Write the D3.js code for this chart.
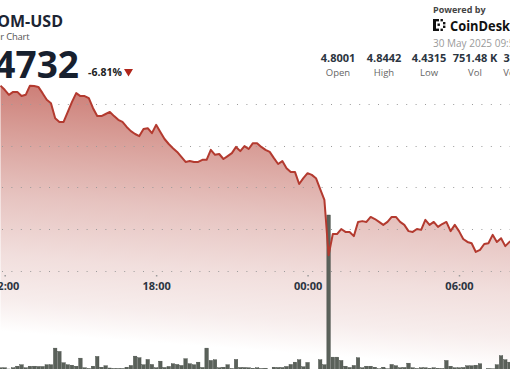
<!DOCTYPE html>
<html><head><meta charset="utf-8">
<script src="https://cdnjs.cloudflare.com/ajax/libs/d3/7.8.5/d3.min.js"></script>
<style>
html,body{margin:0;padding:0;background:#fff;overflow:hidden;}
svg{display:block;font-family:"Open Sans","Noto Sans",sans-serif;}
</style></head><body>
<svg id="chart" width="510" height="369"></svg>
<script>
// ---- data ----
const symbol = "ATOM-USD";
const subtitle = "24 Hour Chart";
const lastPrice = "4.4732";
const changePct = "-6.81%";
const statValues = ["4.8001", "4.8442", "4.4315", "751.48 K", "3.42 M"];
const statLabels = ["Open", "High", "Low", "Vol", "Vol USD"];
const stamp = "30 May 2025 09:54";
const startTime = new Date(2025, 4, 29, 11, 50);   // first 10-minute candle
const stepMinutes = 10;
const prices = [4.844,4.834,4.822,4.829,4.829,4.819,4.822,4.844,4.843,4.841,
 4.826,4.810,4.802,4.766,4.757,4.757,4.781,4.805,4.826,4.819,
 4.819,4.814,4.790,4.771,4.771,4.776,4.781,4.771,4.762,4.757,
 4.745,4.735,4.728,4.723,4.740,4.742,4.730,4.750,4.733,4.716,
 4.704,4.694,4.685,4.673,4.661,4.663,4.661,4.661,4.666,4.666,
 4.690,4.678,4.680,4.668,4.675,4.682,4.697,4.687,4.699,4.692,
 4.706,4.706,4.697,4.690,4.685,4.670,4.656,4.663,4.646,4.637,
 4.637,4.608,4.622,4.634,4.630,4.622,4.596,4.570,4.437,4.488,
 4.488,4.500,4.493,4.493,4.483,4.517,4.519,4.517,4.529,4.524,
 4.517,4.510,4.517,4.529,4.529,4.517,4.510,4.495,4.493,4.500,
 4.498,4.522,4.510,4.517,4.505,4.512,4.517,4.495,4.510,4.495,
 4.476,4.469,4.466,4.445,4.450,4.464,4.466,4.486,4.469,4.478,
 4.459,4.469,4.474];
const volumes = [1.7,1.7,0.5,1.7,3.3,4.7,1.7,3.3,3.3,3.0,
 3.0,4.7,4.7,21.3,18,6.7,4.7,4.3,3.3,11.3,
 1.7,1.0,3.3,13,2.3,3.7,1.5,1.0,1.0,1.0,
 2.3,4,13.3,11.7,4.7,10,5,1.7,8.3,2,
 3,5.7,5,4,10.7,5.7,4.7,7.3,2,21.3,
 9,9.7,1.7,2.3,4.7,1,10,2,2,1.7,
 1.3,1.7,1,1.3,0.3,2.3,2,2,3,5,
 7.3,9.7,2.7,7,0.3,0.3,9.7,4.7,154,12.3,
 12.3,9,3.3,2,4,11.7,1.7,3.3,3.3,2.3,
 0.7,2.3,0.7,5,3.7,1.7,2,6.3,1.7,1,
 1.7,1.7,1.3,1.7,1.3,1,9,3.3,1.7,1.7,
 2,3.7,3.7,4.3,5.7,0.3,1,0.7,4.7,13.7,
 9.7,7.3];
const priceTicks = [4.4, 4.5, 4.6, 4.7, 4.8];
const timeTicks = [new Date(2025,4,29,12,0), new Date(2025,4,29,18,0), new Date(2025,4,30,0,0), new Date(2025,4,30,6,0)];

// ---- build ----
const svg = d3.select("#chart");
const W = 510, H = 369;
const t = i => new Date(startTime.getTime() + i * stepMinutes * 60000);
const priceData = prices.map((p, i) => ({ t: t(i), p }));
const volData = volumes.map((v, i) => ({ t: t(i), v }));

const x = d3.scaleTime().domain([timeTicks[0], timeTicks[3]]).range([4.7, 459]);
const y = d3.scaleLinear().domain([4.4, 4.8]).range([270.7, 104]);
const yv = d3.scaleLinear().domain([0, 154]).range([369.5, 215]);

const defs = svg.append("defs");
const grad = defs.append("linearGradient").attr("id", "ag")
  .attr("gradientUnits", "userSpaceOnUse")
  .attr("x1", 272).attr("y1", 80).attr("x2", 252).attr("y2", 350);
[[0, "#c4675f", 0.95], [0.25, "#d3918a", 0.9], [0.5, "#e2b9b5", 0.85], [0.72, "#efd9d7", 0.85], [0.88, "#f6ebea", 0.9], [1, "#ffffff", 1]]
  .forEach(([o, c, op]) => grad.append("stop").attr("offset", o).attr("stop-color", c).attr("stop-opacity", op));

// area
svg.append("path").datum(priceData)
  .attr("fill", "url(#ag)")
  .attr("d", d3.area().x(d => x(d.t)).y0(H + 5).y1(d => y(d.p)));

// grid lines (dotted)
svg.append("g").selectAll("line").data(priceTicks).join("line")
  .attr("x1", 0).attr("x2", W)
  .attr("y1", d => Math.round(y(d)) + 0.5).attr("y2", d => Math.round(y(d)) + 0.5)
  .attr("stroke", "#9a9a9a").attr("stroke-width", 1)
  .attr("stroke-dasharray", "1 8.4").attr("stroke-dashoffset", -2);

// y labels (lie just beyond the cropped right edge)
svg.append("g").selectAll("text").data(priceTicks).join("text")
  .attr("x", 511).attr("y", d => y(d) + 4)
  .attr("font-size", 11).attr("font-weight", 700).attr("fill", "#2b3440")
  .text(d => d.toFixed(1));

// x axis
const xAxis = svg.append("g").attr("transform", "translate(0,275)")
  .call(d3.axisBottom(x).tickValues(timeTicks).tickSize(1.5).tickPadding(6)
    .tickFormat(d3.timeFormat("%H:%M")));
xAxis.select(".domain").remove();
xAxis.selectAll(".tick line").attr("stroke", "#999").attr("stroke-width", 1.5);
xAxis.selectAll(".tick text").attr("font-size", 11).attr("font-weight", 700)
  .attr("fill", "#2b3440").attr("font-family", "'Open Sans','Noto Sans',sans-serif");

// volume bars
const bw = 3.5;
svg.append("g").selectAll("rect").data(volData).join("rect")
  .attr("x", d => x(d.t) - bw / 2).attr("width", bw)
  .attr("y", d => yv(d.v)).attr("height", d => yv(0) - yv(d.v))
  .attr("fill", "#5a615a").attr("stroke", "#3f453f").attr("stroke-width", 0.4);

// price line
svg.append("path").datum(priceData)
  .attr("fill", "none").attr("stroke", "#b33a2f").attr("stroke-width", 2)
  .attr("stroke-linejoin", "round")
  .attr("d", d3.line().x(d => x(d.t)).y(d => y(d.p)));

// header
svg.append("text").attr("x", 63).attr("y", 27).attr("text-anchor", "end")
  .attr("font-size", 16).attr("font-weight", 700).attr("fill", "#1c2533").text(symbol);
svg.append("text").attr("x", 29.5).attr("y", 40).attr("text-anchor", "end")
  .attr("font-size", 9.5).attr("letter-spacing", -0.2).attr("fill", "#555").text(subtitle);
svg.append("text").attr("x", 79).attr("y", 78).attr("text-anchor", "end")
  .attr("font-size", 37).attr("font-weight", 700).attr("fill", "#17202e").text(lastPrice);
svg.append("text").attr("x", 88).attr("y", 76)
  .attr("font-size", 10.5).attr("font-weight", 700).attr("fill", "#222").text(changePct);
svg.append("path").attr("d", "M124,69 L133,69 L128.5,76.5 Z").attr("fill", "#b0261c");

svg.append("text").attr("x", 433).attr("y", 13)
  .attr("font-size", 9).attr("font-weight", 700).attr("fill", "#444").text("Powered by");
// logo mark
const logo = svg.append("g").attr("fill", "#111");
[[433,19,3,12],[433,19,6,2.4],[433,28.6,6,2.4],[440.5,19,2.4,2.4],[440.5,28.6,2.4,2.4],[443,22,2.4,2.4],[443,25.6,2.4,2.4],[437.5,23.5,2.4,2.4]]
  .forEach(([a,b,w,h]) => logo.append("rect").attr("x", a).attr("y", b).attr("width", w).attr("height", h));
svg.append("text").attr("x", 450).attr("y", 31)
  .attr("font-size", 15).attr("font-weight", 700).attr("fill", "#111")
  .attr("textLength", 60).attr("lengthAdjust", "spacingAndGlyphs").text("CoinDesk");
svg.append("text").attr("x", 433).attr("y", 47)
  .attr("font-size", 10).attr("fill", "#9a9a9a").text(stamp);

const statX = [338, 384, 429, 475, 521];
svg.append("g").selectAll("text").data(statValues).join("text")
  .attr("x", (d, i) => statX[i]).attr("y", 62).attr("text-anchor", "middle")
  .attr("font-size", 11).attr("font-weight", 700).attr("fill", "#2b3440").text(d => d);
svg.append("g").selectAll("text").data(statLabels).join("text")
  .attr("x", (d, i) => statX[i]).attr("y", 75.5).attr("text-anchor", "middle")
  .attr("font-size", 9.5).attr("fill", "#666").text(d => d);
</script>
</body></html>
